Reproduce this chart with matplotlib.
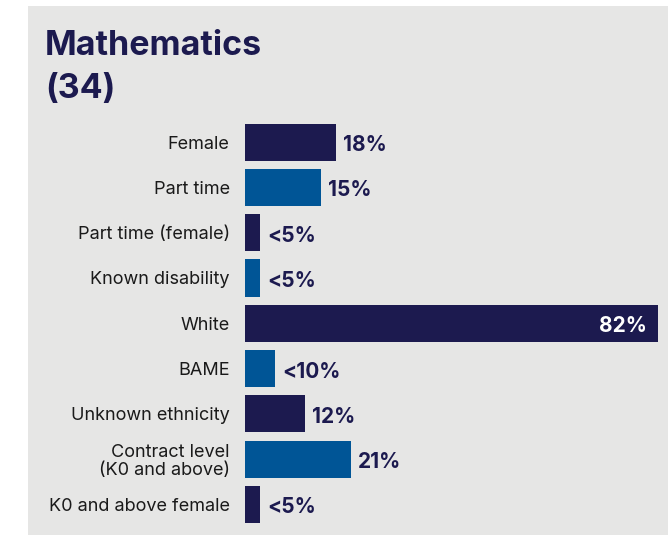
import matplotlib
matplotlib.use('Agg')
import matplotlib.pyplot as plt
from matplotlib.patches import Rectangle

# data
categories = ['Female', 'Part time', 'Part time (female)', 'Known disability',
              'White', 'BAME', 'Unknown ethnicity',
              'Contract level\n(K0 and above)', 'K0 and above female']
values = [18, 15, 3, 3, 82, 6, 12, 21, 3]
value_labels = ['18%', '15%', '<5%', '<5%', '82%', '<10%', '12%', '21%', '<5%']
title_lines = ['Mathematics', '(34)']

navy = '#1c1a4f'
blue = '#005596'
bg = '#e6e6e5'
colors = [navy if i % 2 == 0 else blue for i in range(len(values))]

plt.rcParams['font.family'] = ['Inter', 'DejaVu Sans']

W, H = 668, 535
fig = plt.figure(figsize=(W / 100, H / 100), dpi=100)
fig.patch.set_facecolor('white')
fig.patches.append(Rectangle((28 / W, 0), 1 - 28 / W, (H - 6) / H,
                             transform=fig.transFigure, facecolor=bg,
                             edgecolor='none', zorder=-5))

# title, one line at a time (baselines at 55 and 98 px)
for line, base in zip(title_lines, [55, 98]):
    fig.text(45 / W, 1 - base / H, line, ha='left', va='baseline',
             fontsize=24.5, fontweight='bold', color=navy)

top, bottom = 119.5, 527
ax = fig.add_axes([245 / W, 1 - bottom / H, (658 - 245) / W, (bottom - top) / H])
ax.set_facecolor('none')
ypos = list(range(len(values)))
ax.barh(ypos, values, height=0.82, color=colors, edgecolor='none')
ax.set_xlim(0, 82)
ax.set_ylim(len(values) - 0.5, -0.5)
ax.set_yticks(ypos)
ax.set_yticklabels(categories, fontsize=13, color='#1a1a1a', ha='right',
                   linespacing=1.1)
ax.tick_params(axis='y', length=0, pad=11)
ax.set_xticks([])
for s in ax.spines.values():
    s.set_visible(False)

for y, v, lab in zip(ypos, values, value_labels):
    if v > 60:
        ax.annotate(lab, (v, y), xytext=(-11, -3), textcoords='offset pixels',
                    ha='right', va='center', fontsize=15, fontweight='bold',
                    color='white')
    else:
        ax.annotate(lab, (v, y), xytext=(7, -3), textcoords='offset pixels',
                    ha='left', va='center', fontsize=15, fontweight='bold',
                    color=navy)

fig.savefig('out.png', dpi=100)
